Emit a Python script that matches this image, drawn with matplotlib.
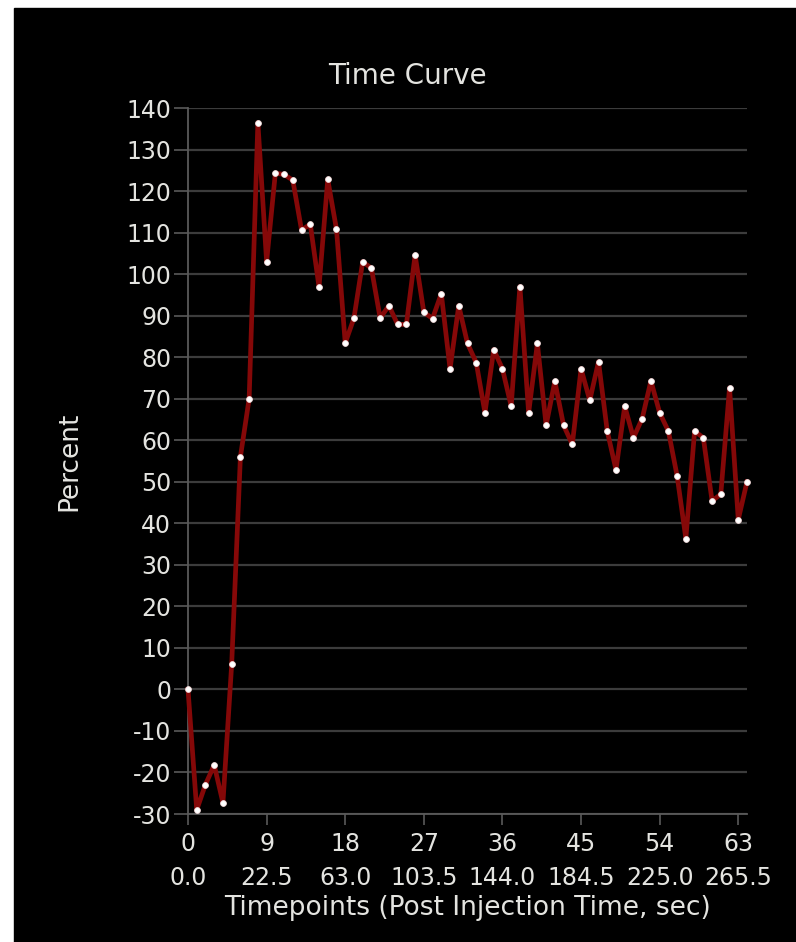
import numpy as np
import matplotlib.pyplot as plt
from matplotlib.patches import Rectangle

plt.rcParams["axes.unicode_minus"] = False

# percent values for each timepoint 0..64
percent = [0, -29, -22.9, -18.2, -27.3, 6, 56, 70, 136.5, 103,
           124.3, 124, 122.6, 110.6, 112, 96.9, 122.8, 110.8, 83.4, 89.4,
           103, 101.4, 89.4, 92.4, 87.9, 87.9, 104.6, 90.8, 89.3, 95.3,
           77.2, 92.4, 83.3, 78.7, 66.6, 81.8, 77.2, 68.2, 97, 66.6,
           83.3, 63.6, 74.2, 63.6, 59, 77.2, 69.6, 78.9, 62.2, 52.9,
           68.2, 60.6, 65.2, 74.3, 66.6, 62.2, 51.4, 36.3, 62.2, 60.6,
           45.4, 47, 72.6, 40.9, 50]
timepoints = np.arange(len(percent))

tick_points = [0, 9, 18, 27, 36, 45, 54, 63]
tick_times = ["0.0", "22.5", "63.0", "103.5", "144.0", "184.5", "225.0", "265.5"]
y_ticks = list(range(-30, 141, 10))

txt = "#e4e4e0"
grid_c = "#3c3c3c"

fig = plt.figure(figsize=(7.96, 9.42), dpi=100, facecolor="white")
fig.patches.append(Rectangle((14 / 796, 0), 1 - 14 / 796, 1 - 8 / 942,
                             transform=fig.transFigure, color="black", zorder=-10))

ax = fig.add_axes([188 / 796, 1 - 814 / 942, (747 - 188) / 796, (814 - 108) / 942])
ax.set_facecolor("black")
ax.set_zorder(2)

ax.plot(timepoints, percent, color="#850808", lw=3.4, zorder=3,
        marker="o", ms=4.2, mfc="white", mec="#f0d8d8", mew=0.6, clip_on=False)

ax.set_xlim(0, 64)
ax.set_ylim(-30, 140)
ax.set_yticks(y_ticks)
ax.set_xticks(tick_points)
ax.set_xticklabels([f"{p}\n{t}" for p, t in zip(tick_points, tick_times)],
                   linespacing=1.5)
ax.grid(axis="y", color=grid_c, lw=1.6)
ax.set_axisbelow(True)

for s in ["top", "right"]:
    ax.spines[s].set_visible(False)
for s in ["left", "bottom"]:
    ax.spines[s].set_color("#5a5a5a")
    ax.spines[s].set_linewidth(1.3)

ax.tick_params(axis="both", colors="#5a5a5a", labelcolor=txt, labelsize=17, width=1.2)
ax.tick_params(axis="y", length=10, pad=2)
ax.tick_params(axis="x", length=8, pad=5)

ax.set_ylabel("Percent", color=txt, fontsize=19, labelpad=32)
ax.set_xlabel("Timepoints (Post Injection Time, sec)", color=txt, fontsize=19, labelpad=4)
fig.text(407 / 796, 1 - 76 / 942, "Time Curve", color=txt, fontsize=20,
         ha="center", va="center")

fig.savefig("out.png", dpi=100, facecolor=fig.get_facecolor())
